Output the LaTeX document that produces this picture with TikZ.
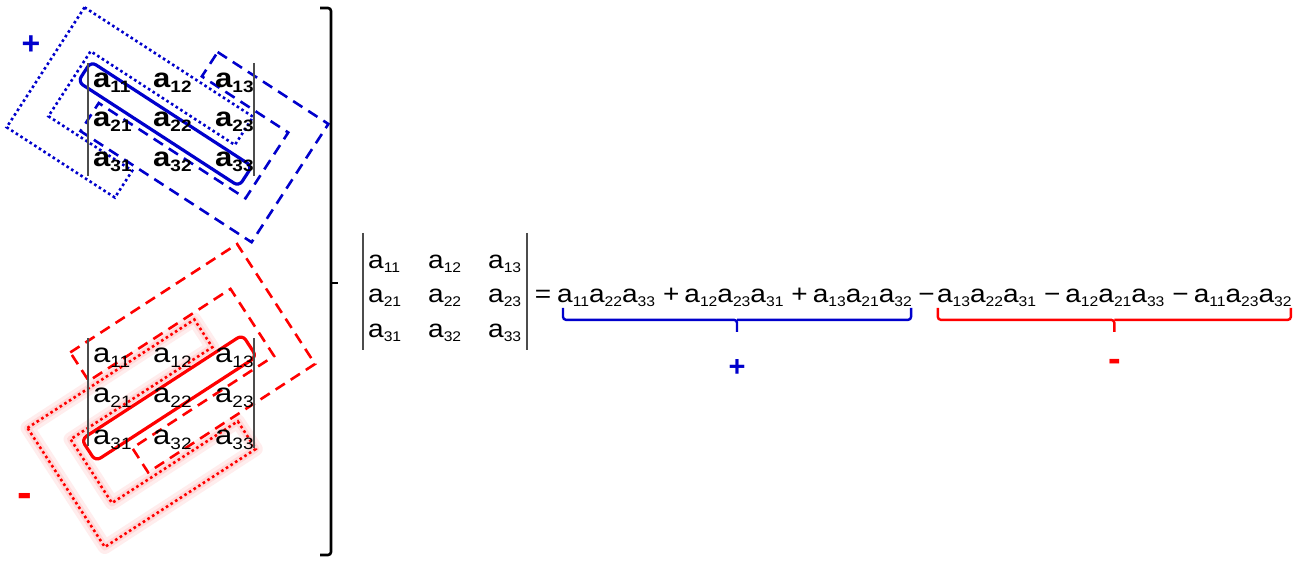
\documentclass[tikz,border=0pt]{standalone}
\usepackage{fontspec}
\setmainfont{Liberation Sans}
\newfontfamily\lmf[FakeStretch=1.15]{Liberation Sans}
\newfontfamily\rhsf[FakeStretch=1.12]{Liberation Sans}
\usetikzlibrary{calc}
\definecolor{myblue}{RGB}{0,0,204}
\definecolor{myred}{RGB}{255,0,0}
\newcommand\lel[1]{a\raisebox{-5pt}{\fontsize{16.5}{16.5}\selectfont #1}}
\newcommand\rel[1]{a\raisebox{-4.5pt}{\fontsize{14}{14}\selectfont #1}}
\newcommand\rop[1]{\hspace{8pt}#1\hspace{5pt}}
\begin{document}
\begin{tikzpicture}[x=1pt,y=-1pt,
  topent/.style={font={\lmf\bfseries\fontsize{27}{27}\selectfont}, inner sep=0pt, anchor=base west},
  botent/.style={font={\lmf\fontsize{27}{27}\selectfont}, inner sep=0pt, anchor=base west},
  rhsent/.style={font={\rhsf\fontsize{25}{25}\selectfont}, inner sep=0pt, anchor=base west},
  bsolid/.style={draw=myblue, line width=3.2pt, rounded corners=6pt},
  bdot/.style={draw=myblue, line width=2.6pt, dash pattern=on 2.6pt off 2.9pt},
  bdash/.style={draw=myblue, line width=2.6pt, dash pattern=on 11pt off 7pt},
  rsolid/.style={draw=myred, line width=3.2pt, rounded corners=6pt},
  rdot/.style={draw=myred, line width=2.6pt, dash pattern=on 2.6pt off 2.9pt},
  rdash/.style={draw=myred, line width=2.6pt, dash pattern=on 11pt off 7pt},
  glow/.style={draw=myred!7, line width=14pt, line join=round},
  glowin/.style={draw=myred!15, line width=7pt, line join=round},
  mbar/.style={draw=black!70, line width=1.1pt},
  bbrace/.style={draw=myblue, line width=2.4pt, rounded corners=3pt},
  rbrace/.style={draw=myred, line width=2.4pt, rounded corners=3pt},
  sign/.style={inner sep=0pt, font={\bfseries\fontsize{32}{32}\selectfont}}]
\fill[white] (0,0) rectangle (1297,561);
\useasboundingbox (0,0) rectangle (1297,561);

% ---------- top (blue) ----------
\begin{scope}[shift={(165,124)}, rotate=-33]
  \draw[bdot] (-131,-54) -- (70,-54) -- (70,-20.5) -- (-102,-20.5) -- (-102,57)
     -- (-2,57) -- (-2,89) -- (-131,89) -- cycle;
  \draw[bdash] (5,-89) -- (137,-89) -- (137,52) -- (-67,52) -- (-67,18.5)
     -- (108,18.5) -- (108,-60) -- (5,-60) -- cycle;
  \draw[bsolid] (-96,-12) rectangle (96,12);
\end{scope}
\draw[mbar] (88,63) -- (88,176);
\draw[mbar] (254,63) -- (254,176);
\node[topent] (ta11) at (93,88) {\lel{11}};
\node[topent] (ta12) at (153,88) {\lel{12}};
\node[topent] (ta13) at (215,88) {\lel{13}};
\node[topent] (ta21) at (93,127) {\lel{21}};
\node[topent] (ta22) at (153,127) {\lel{22}};
\node[topent] (ta23) at (215,127) {\lel{23}};
\node[topent] (ta31) at (93,167) {\lel{31}};
\node[topent] (ta32) at (153,167) {\lel{32}};
\node[topent] (ta33) at (215,167) {\lel{33}};
\node[sign, text=myblue] (tplus) at (31,45) {+};

% ---------- bottom (red) ----------
\begin{scope}[shift={(169,398)}, rotate=33]
  \path[glow] (-135,-52) -- (64,-52) -- (64,-19) -- (-105,-19) -- (-105,57)
     -- (45,57) -- (45,90) -- (-135,90) -- cycle;
  \path[glowin] (-135,-52) -- (64,-52) -- (64,-19) -- (-105,-19) -- (-105,57)
     -- (45,57) -- (45,90) -- (-135,90) -- cycle;
  \draw[rdot] (-135,-52) -- (64,-52) -- (64,-19) -- (-105,-19) -- (-105,57)
     -- (45,57) -- (45,90) -- (-135,90) -- cycle;
  \draw[rdash] (-58,-92) -- (141,-92) -- (141,51) -- (-58,51) -- (-58,22)
     -- (111,22) -- (111,-58) -- (-58,-58) -- cycle;
  \draw[rsolid] (-96,-13) rectangle (96,13);
\end{scope}
\draw[mbar] (88,338) -- (88,446);
\draw[mbar] (254,338) -- (254,448);
\node[botent] (ba11) at (93,362) {\lel{11}};
\node[botent] (ba12) at (153,362) {\lel{12}};
\node[botent] (ba13) at (215,362) {\lel{13}};
\node[botent] (ba21) at (93,402) {\lel{21}};
\node[botent] (ba22) at (153,402) {\lel{22}};
\node[botent] (ba23) at (215,402) {\lel{23}};
\node[botent] (ba31) at (93,444) {\lel{31}};
\node[botent] (ba32) at (153,444) {\lel{32}};
\node[botent] (ba33) at (215,444) {\lel{33}};
\node[sign, text=myred, font={\bfseries\fontsize{44}{44}\selectfont}] (bminus) at (25,500) {-};

% ---------- big bracket ----------
\draw[line width=2.6pt, rounded corners=3pt] (320,8) -- (331,8) -- (331,555) -- (320,555);
\draw[line width=2.6pt] (331,283) -- (338,283);

% ---------- right matrix ----------
\draw[mbar] (363,233) -- (363,350);
\draw[mbar] (527,233) -- (527,350);
\node[rhsent] (ra11) at (368,268) {\rel{11}};
\node[rhsent] (ra12) at (428,268) {\rel{12}};
\node[rhsent] (ra13) at (488,268) {\rel{13}};
\node[rhsent] (ra21) at (368,302) {\rel{21}};
\node[rhsent] (ra22) at (428,302) {\rel{22}};
\node[rhsent] (ra23) at (488,302) {\rel{23}};
\node[rhsent] (ra31) at (368,337) {\rel{31}};
\node[rhsent] (ra32) at (428,337) {\rel{32}};
\node[rhsent] (ra33) at (488,337) {\rel{33}};
\node[rhsent, anchor=base] (eq) at (543,302) {=};
\node[rhsent] (g1) at (557,302) {\rel{11}\rel{22}\rel{33}\rop{+}\rel{12}\rel{23}\rel{31}\rop{+}\rel{13}\rel{21}\rel{32}};
\node[rhsent] (mn) at (g1.base east) {\rop{\rlap{\hspace{-2pt}−}\phantom{+}}};
\node[rhsent] (g2) at (mn.base east) {\rel{13}\rel{22}\rel{31}\rop{−}\rel{12}\rel{21}\rel{33}\rop{−}\rel{11}\rel{23}\rel{32}};

% braces
\path (g1.south west) ++(6,1) coordinate (b1l);
\path (g1.south east) ++(-1,1) coordinate (b1r);
\path (b1l) -- (b1r) coordinate[pos=0.5] (b1m);
\draw[bbrace] (b1l) -- ++(0,12) -- ($(b1m)+(0,12)$) -- ++(0,12);
\draw[bbrace] ($(b1m)+(0,12)$) -- ($(b1r)+(0,12)$) -- (b1r);
\path (g2.south west) ++(1,1) coordinate (b2l);
\path (g2.south east) ++(-1,1) coordinate (b2r);
\path (b2l) -- (b2r) coordinate[pos=0.5] (b2m);
\draw[rbrace] (b2l) -- ++(0,12) -- ($(b2m)+(0,12)$) -- ++(0,12);
\draw[rbrace] ($(b2m)+(0,12)$) -- ($(b2r)+(0,12)$) -- (b2r);
\node[sign, text=myblue, font={\bfseries\fontsize{29}{29}\selectfont}] (rplus) at ($(b1m)+(0,60)$) {+};
\node[sign, text=myred, font={\bfseries\fontsize{38}{38}\selectfont}] (rminus) at ($(b2m)+(0,58)$) {-};
\end{tikzpicture}
\end{document}
